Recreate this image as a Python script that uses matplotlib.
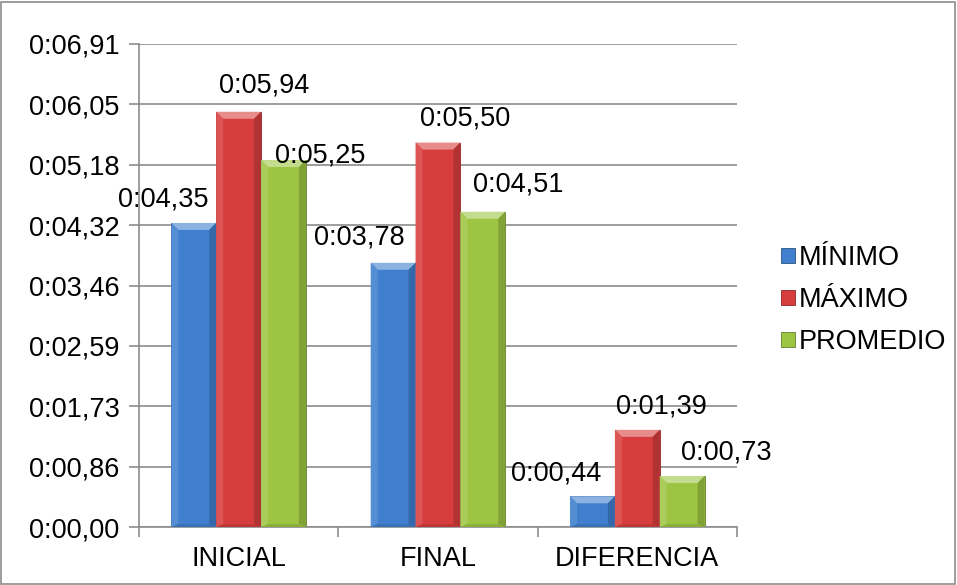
import matplotlib.pyplot as plt
import numpy as np
from matplotlib.patches import Polygon, Rectangle
from matplotlib.colors import to_rgb

plt.rcParams['font.family'] = ['Liberation Sans', 'DejaVu Sans']

categorias = ['INICIAL', 'FINAL', 'DIFERENCIA']
series = ['MÍNIMO', 'MÁXIMO', 'PROMEDIO']
# tiempos en segundos
minimo = [4.35, 3.78, 0.44]
maximo = [5.94, 5.50, 1.39]
promedio = [5.25, 4.51, 0.73]
ticks_y = [0.00, 0.86375, 1.7275, 2.59125, 3.455, 4.31875, 5.1825, 6.04625, 6.91]
ticks_y_txt = ['0:00,00', '0:00,86', '0:01,73', '0:02,59', '0:03,46',
               '0:04,32', '0:05,18', '0:06,05', '0:06,91']

colores = ['#3F7FCE', '#D73D3D', '#9DC543']
# desplazamiento de cada etiqueta (px) respecto al centro superior de la barra
desp = [[(-31, 23), (-34, 25), (-36, 23)],
        [(25, 26), (27, 24), (24, 23)],
        [(37, 5), (35, 27), (44, 23)]]
fs = 19.5

def fmt(v):
    return '0:%05.2f' % v


def tono(c, f):
    r = np.array(to_rgb(c))
    if f > 0:
        return tuple(r + (1 - r) * f)
    return tuple(r * (1 + f))


fig = plt.figure(figsize=(9.57, 5.85), dpi=100)
ax = fig.add_axes([0.1452, 0.0991, 0.6249, 0.8257])
fig.add_artist(Rectangle((0.001, 0.002), 0.997, 0.995, transform=fig.transFigure,
                         fill=False, ec='#8c8c8c', lw=1.2))

x = np.arange(len(categorias))
ancho = 0.225
ax.set_xlim(-0.5, 2.5)
ax.set_ylim(0, 6.91)

# bisel: tamano en unidades de datos (aprox 7 px)
bx = 7 / 199.3
by = 7 / 69.9

for i, (vals, col) in enumerate(zip([minimo, maximo, promedio], colores)):
    pos = x + (i - 1) * ancho
    ax.bar(pos, vals, ancho, color=col, label=series[i], zorder=2,
           edgecolor=tono(col, -0.35), linewidth=0.6)
    for p, v, (dx, dy) in zip(pos, vals, desp[i]):
        x0, x1 = p - ancho / 2, p + ancho / 2
        caras = [
            ([(x0, v), (x1, v), (x1 - bx, v - by), (x0 + bx, v - by)], 0.4),
            ([(x0, v), (x0 + bx, v - by), (x0 + bx, by * 0.4), (x0, 0)], 0.12),
            ([(x1, v), (x1 - bx, v - by), (x1 - bx, by * 0.4), (x1, 0)], -0.18),
            ([(x0, 0), (x0 + bx, by * 0.4), (x1 - bx, by * 0.4), (x1, 0)], -0.12),
        ]
        for pts, f in caras:
            ax.add_patch(Polygon(pts, closed=True, fc=tono(col, f), ec='none', zorder=3))
        ax.annotate(fmt(v).replace('.', ','), (p, v), xytext=(dx, dy),
                    textcoords='offset pixels', ha='center', va='center',
                    fontsize=fs, zorder=5)

ax.set_yticks(ticks_y)
ax.set_yticklabels(ticks_y_txt)
ax.set_xticks(x)
ax.set_xticklabels(categorias)
ax.set_xticks([-0.5, 0.5, 1.5, 2.5], minor=True)
ax.tick_params(axis='x', which='major', length=0, pad=14, labelsize=fs)
ax.tick_params(axis='x', which='minor', length=7, color='#8c8c8c', width=1.2)
ax.tick_params(axis='y', length=7, color='#8c8c8c', width=1.2, pad=7, labelsize=fs)
ax.grid(axis='y', color='#8c8c8c', lw=1.2, zorder=0)
ax.set_axisbelow(True)
for s in ['top', 'right']:
    ax.spines[s].set_visible(False)
for s in ['left', 'bottom']:
    ax.spines[s].set_color('#8c8c8c')
    ax.spines[s].set_linewidth(1.2)

fig.legend(loc='center left', bbox_to_anchor=(0.805, 0.487), frameon=False,
           fontsize=fs, handlelength=0.5, handleheight=0.5, handletextpad=0.15,
           labelspacing=0.6, borderaxespad=0)

fig.savefig('out.png', dpi=100)
